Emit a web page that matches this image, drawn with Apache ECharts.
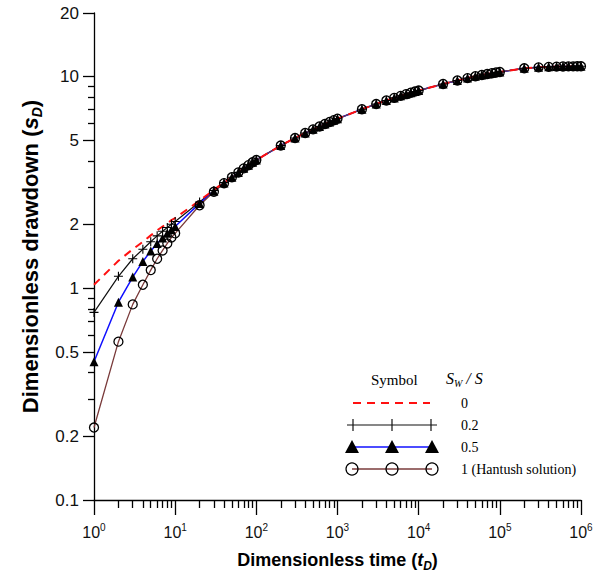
<!DOCTYPE html>
<html>
<head>
<meta charset="utf-8">
<script src="https://cdn.jsdelivr.net/npm/echarts@6/dist/echarts.min.js"></script>
<style>
  html, body { margin: 0; padding: 0; background: #fff; }
  #chart { width: 604px; height: 579px; }
</style>
</head>
<body>
<div id="chart"></div>
<script>
// ---------- data ----------
var tD = [
  1, 2, 3, 4, 5, 6, 7, 8, 9,
  10, 20, 30, 40, 50, 60, 70, 80, 90,
  100, 200, 300, 400, 500, 600, 700, 800, 900,
  1000, 2000, 3000, 4000, 5000, 6000, 7000, 8000, 9000,
  10000, 20000, 30000, 40000, 50000, 60000, 70000, 80000, 90000,
  100000, 200000, 300000, 400000, 500000, 600000, 700000, 800000, 900000,
  1000000
];
var commonTail = [
  3.35, 3.53, 3.69, 3.82, 3.94,
  4.04, 4.73, 5.13, 5.42, 5.64, 5.82, 5.98, 6.11, 6.23,
  6.33, 7.02, 7.43, 7.72, 7.94, 8.12, 8.27, 8.40, 8.51,
  8.60, 9.24, 9.60, 9.85, 10.05, 10.19, 10.30, 10.39, 10.47,
  10.53, 10.96, 11.07, 11.13, 11.16, 11.18, 11.19, 11.19, 11.20,
  11.20
];
var sD_ratio0   = [1.04, 1.35, 1.53, 1.66, 1.78, 1.88, 1.96, 2.03, 2.10, 2.15, 2.60, 2.92, 3.17].concat(commonTail);
var sD_ratio02  = [0.77, 1.14, 1.38, 1.53, 1.66, 1.77, 1.86, 1.94, 2.01, 2.07, 2.56, 2.90, 3.16].concat(commonTail);
var sD_ratio05  = [0.45, 0.86, 1.13, 1.34, 1.50, 1.63, 1.73, 1.82, 1.89, 1.96, 2.52, 2.88, 3.15].concat(commonTail);
var sD_hantush  = [0.22, 0.56, 0.84, 1.04, 1.22, 1.38, 1.51, 1.63, 1.74, 1.82, 2.47, 2.86, 3.14].concat(commonTail);

var xMajorTicks = [1, 10, 100, 1000, 10000, 100000, 1000000];
var xMinorTicks = [];
for (var d = 0; d < 6; d++) { for (var m = 2; m <= 9; m++) { xMinorTicks.push(m * Math.pow(10, d)); } }
var yMajorTicks = [0.1, 0.2, 0.5, 1, 2, 5, 10, 20];
var yMinorTicks = [0.3, 0.4, 0.6, 0.7, 0.8, 0.9, 3, 4, 6, 7, 8, 9];

function pairs(ys) { return tD.map(function (t, i) { return [t, ys[i]]; }); }

var AX = '#000';
var labelFont = 'Liberation Sans, Arial, sans-serif';
var serif = 'Liberation Serif, Times New Roman, serif';

var chart = echarts.init(document.getElementById('chart'), null, { renderer: 'svg' });

var option = {
  backgroundColor: '#fff',
  animation: false,
  grid: { left: 94, right: 23, top: 13, bottom: 79, containLabel: false },
  xAxis: [
    {
      type: 'log', logBase: 10, min: 1, max: 1000000,
      axisLine: { lineStyle: { color: AX, width: 1.3 } },
      axisTick: { show: true, inside: false, length: 15, customValues: xMajorTicks, lineStyle: { color: AX, width: 1.3 } },
      axisLabel: {
        customValues: xMajorTicks,
        margin: 22,
        color: '#111', fontFamily: labelFont, fontSize: 16, lineHeight: 20,
        formatter: function (v) { return '10{sup|' + Math.round(Math.log10(v)) + '}'; },
        rich: { sup: { fontSize: 10, lineHeight: 10, verticalAlign: 'top', fontFamily: labelFont, color: '#111' } }
      },
      splitLine: { show: false },
      name: 'Dimensionless time ({it|t}{sub|D})',
      nameLocation: 'middle', nameGap: 48,
      nameTextStyle: {
        fontFamily: labelFont, fontSize: 18, fontWeight: 'bold', color: '#000', lineHeight: 24,
        rich: {
          it: { fontFamily: labelFont, fontSize: 18, fontWeight: 'bold', fontStyle: 'italic', color: '#000', lineHeight: 24 },
          sub: { fontFamily: labelFont, fontSize: 12, fontWeight: 'bold', fontStyle: 'italic', color: '#000', lineHeight: 12, verticalAlign: 'bottom' }
        }
      }
    },
    {
      type: 'log', logBase: 10, min: 1, max: 1000000, position: 'bottom', offset: 0,
      axisLine: { show: false },
      axisTick: { show: true, inside: false, length: 8, customValues: xMinorTicks, lineStyle: { color: AX, width: 1.3 } },
      axisLabel: { show: false },
      splitLine: { show: false }
    }
  ],
  yAxis: [
    {
      type: 'log', logBase: 10, min: 0.1, max: 20,
      axisLine: { lineStyle: { color: AX, width: 1.3 } },
      axisTick: { show: true, inside: false, length: 11, customValues: yMajorTicks, lineStyle: { color: AX, width: 1.3 } },
      axisLabel: {
        customValues: yMajorTicks,
        margin: 15,
        color: '#111', fontFamily: labelFont, fontSize: 17,
        formatter: function (v) { return String(parseFloat(Number(v).toPrecision(3))); }
      },
      splitLine: { show: false },
      name: 'Dimensionless drawdown ({it|s}{sub|D})',
      nameLocation: 'middle', nameGap: 50,
      nameTextStyle: {
        fontFamily: labelFont, fontSize: 22, fontWeight: 'bold', color: '#000', lineHeight: 28,
        rich: {
          it: { fontFamily: labelFont, fontSize: 22, fontWeight: 'bold', fontStyle: 'italic', color: '#000', lineHeight: 28 },
          sub: { fontFamily: labelFont, fontSize: 14, fontWeight: 'bold', fontStyle: 'italic', color: '#000', lineHeight: 14, verticalAlign: 'bottom' }
        }
      }
    },
    {
      type: 'log', logBase: 10, min: 0.1, max: 20, position: 'left', offset: 0,
      axisLine: { show: false },
      axisTick: { show: true, inside: false, length: 6, customValues: yMinorTicks, lineStyle: { color: AX, width: 1.3 } },
      axisLabel: { show: false },
      splitLine: { show: false }
    }
  ],
  series: [
    {
      name: '0.2', type: 'line', xAxisIndex: 0, yAxisIndex: 0,
      data: pairs(sD_ratio02),
      symbol: 'path://M0,5L10,5M5,0L5,10', symbolSize: 9,
      itemStyle: { color: 'none', borderColor: '#000', borderWidth: 1.1 },
      lineStyle: { color: '#111', width: 1.2 }
    },
    {
      name: '0.5', type: 'line', xAxisIndex: 0, yAxisIndex: 0,
      data: pairs(sD_ratio05),
      symbol: 'triangle', symbolSize: 9,
      itemStyle: { color: '#000' },
      lineStyle: { color: '#1010ff', width: 1.5 }
    },
    {
      name: '1 (Hantush solution)', type: 'line', xAxisIndex: 0, yAxisIndex: 0,
      data: pairs(sD_hantush),
      symbol: 'circle', symbolSize: 9,
      itemStyle: { color: 'rgba(0,0,0,0)', borderColor: '#000', borderWidth: 1.3 },
      lineStyle: { color: '#7a3b3b', width: 1.3 }
    },
    {
      name: '0', type: 'line', xAxisIndex: 0, yAxisIndex: 0,
      data: pairs(sD_ratio0),
      showSymbol: false, symbol: 'none',
      lineStyle: { color: '#ff1010', width: 2, type: [8, 6] }
    }
  ],
  graphic: [
    { type: 'text', left: 371, top: 372, style: { text: 'Symbol', font: '15px ' + serif, fill: '#000' } },
    { type: 'text', left: 446, top: 370, style: {
        text: '{i|S}{sub|W}{i| / S}',
        rich: {
          i: { fontFamily: serif, fontSize: 16, fontStyle: 'italic', fill: '#000', lineHeight: 20 },
          sub: { fontFamily: serif, fontSize: 10, fontStyle: 'italic', fill: '#000', lineHeight: 10, verticalAlign: 'bottom' }
        }
    } },
    // row 0
    { type: 'line', shape: { x1: 353, y1: 403, x2: 430, y2: 403 }, style: { stroke: '#ff1010', lineWidth: 2, lineDash: [8, 6] } },
    { type: 'text', left: 461, top: 396, style: { text: '0', font: '14px ' + serif, fill: '#000' } },
    // row 0.2
    { type: 'line', shape: { x1: 347, y1: 425, x2: 437, y2: 425 }, style: { stroke: '#111', lineWidth: 1.2 } },
    { type: 'line', shape: { x1: 353, y1: 419, x2: 353, y2: 431 }, style: { stroke: '#111', lineWidth: 1.2 } },
    { type: 'line', shape: { x1: 392, y1: 419, x2: 392, y2: 431 }, style: { stroke: '#111', lineWidth: 1.2 } },
    { type: 'line', shape: { x1: 431, y1: 419, x2: 431, y2: 431 }, style: { stroke: '#111', lineWidth: 1.2 } },
    { type: 'text', left: 461, top: 418, style: { text: '0.2', font: '14px ' + serif, fill: '#000' } },
    // row 0.5
    { type: 'line', shape: { x1: 352, y1: 447, x2: 432, y2: 447 }, style: { stroke: '#1010ff', lineWidth: 1.6 } },
    { type: 'polygon', shape: { points: [[345, 453], [352, 440], [359, 453]] }, style: { fill: '#000' } },
    { type: 'polygon', shape: { points: [[385, 453], [392, 440], [399, 453]] }, style: { fill: '#000' } },
    { type: 'polygon', shape: { points: [[425, 453], [432, 440], [439, 453]] }, style: { fill: '#000' } },
    { type: 'text', left: 461, top: 440, style: { text: '0.5', font: '14px ' + serif, fill: '#000' } },
    // row 1
    { type: 'line', shape: { x1: 352, y1: 469, x2: 432, y2: 469 }, style: { stroke: '#7a3b3b', lineWidth: 1.4 } },
    { type: 'circle', shape: { cx: 352, cy: 469, r: 6 }, style: { fill: 'none', stroke: '#000', lineWidth: 1.2 } },
    { type: 'circle', shape: { cx: 392, cy: 469, r: 6 }, style: { fill: 'none', stroke: '#000', lineWidth: 1.2 } },
    { type: 'circle', shape: { cx: 432, cy: 469, r: 6 }, style: { fill: 'none', stroke: '#000', lineWidth: 1.2 } },
    { type: 'text', left: 461, top: 462, style: { text: '1 (Hantush solution)', font: '14px ' + serif, fill: '#000' } }
  ]
};
chart.setOption(option);
</script>
</body>
</html>
